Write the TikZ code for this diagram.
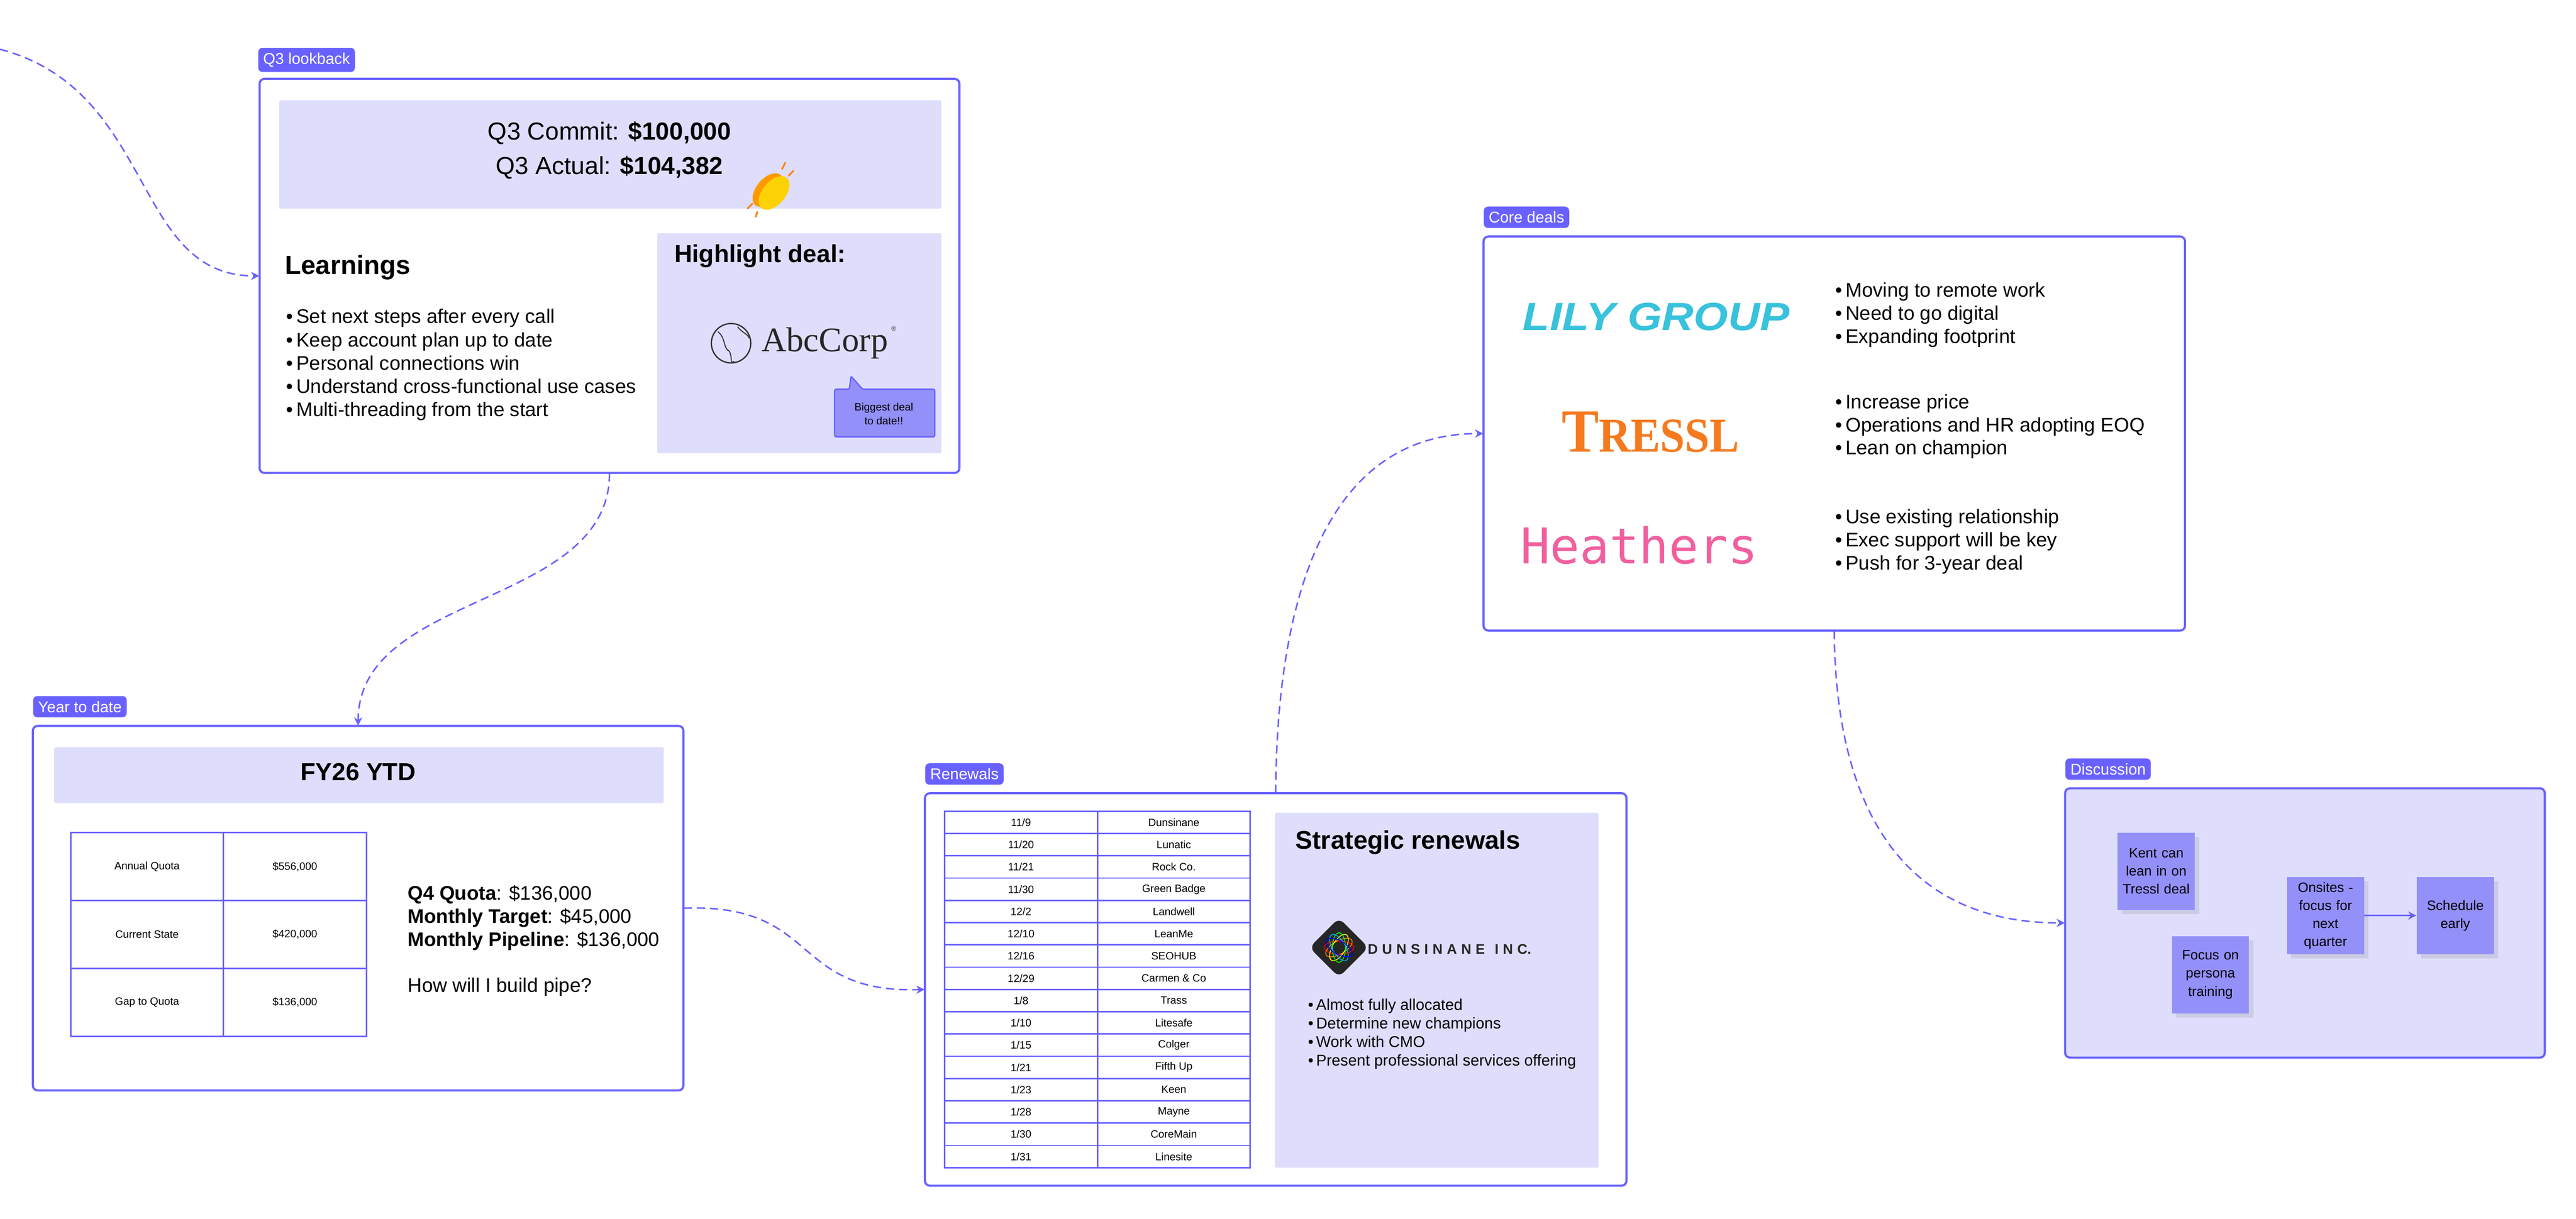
\documentclass[tikz,border=0pt]{standalone}
\usepackage{fontspec}
\setmainfont{Liberation Sans}
\newfontfamily\seriff{Liberation Serif}
\newfontfamily\monof{DejaVu Sans Mono}
\usetikzlibrary{arrows.meta,shapes.geometric,positioning,shadows}
\definecolor{pur}{HTML}{6961FF}
\definecolor{lite}{HTML}{DEDEFC}
\definecolor{stk}{HTML}{9490FA}
\definecolor{lily}{HTML}{38C2DC}
\definecolor{heath}{HTML}{F0609E}
\definecolor{tres}{HTML}{F57A1F}
\begin{document}
\begin{tikzpicture}[x=1pt,y=-1pt,
  frame/.style={draw=pur,line width=1.3pt,rounded corners=3pt,fill=white},
  tag/.style={fill=pur,rounded corners=2.5pt,text=white,font=\fontsize{9.5}{11}\selectfont,inner sep=3pt,anchor=south west},
  panel/.style={fill=lite,rounded corners=1pt},
  conn/.style={draw=pur,line width=0.9pt,dash pattern=on 5pt off 3pt,-{Stealth[length=5pt,width=5pt]}},
  sticky/.style={fill=stk,minimum width=47pt,minimum height=47pt,text width=47pt,align=center,font=\fontsize{8.3}{11}\selectfont,inner sep=0pt,drop shadow={opacity=0.2}},
  blist/.style={anchor=north west,align=left,inner sep=0pt},
  cell/.style={font=\fontsize{6.5}{8}\selectfont}]
\useasboundingbox (0,0) rectangle (1568,742);
\fill[white] (0,0) rectangle (1568,742);

% ===== Q3 lookback
\node[tag] (q3tag) at (157,44) {Q3 lookback};
\draw[frame] (158,48) rectangle (584,288);
\node[minimum width=426pt,minimum height=240pt,inner sep=0pt] (q3) at (371,168) {};
\fill[panel] (170,61) rectangle (573,127);
\node[font=\fontsize{15}{18}\selectfont] (commit) at (371,81) {Q3 Commit: \textbf{\$100,000}};
\node[font=\fontsize{15}{18}\selectfont] (actual) at (371,102) {Q3 Actual: \textbf{\$104,382}};
% clap
\begin{scope}[shift={(469,117)},rotate=-40]
 \fill[orange!80!yellow] (-2,0) ellipse (7 and 12);
 \fill[yellow!70!orange] (2,-1) ellipse (7 and 12);
\end{scope}
\draw[orange,line width=1pt,line cap=round] (476,103)--(478,99) (480,107)--(483,104) (458,124)--(455,127) (461,129)--(460,132);
\node[anchor=west,font=\bfseries\fontsize{16}{19}\selectfont] (learn) at (170,163) {Learnings};
\node[blist,font=\fontsize{12}{14.2}\selectfont] (lbul) at (174,188) {%
\textbullet\,Set next steps after every call\\
\textbullet\,Keep account plan up to date\\
\textbullet\,Personal connections win\\
\textbullet\,Understand cross-functional use cases\\
\textbullet\,Multi-threading from the start};
\fill[panel] (400,142) rectangle (573,276);
\node[anchor=west,font=\bfseries\fontsize{15}{18}\selectfont] (hl) at (407,156) {Highlight deal:};
\draw[black!80,line width=0.8pt] (445,209) circle (12);
\draw[black!80,line width=0.6pt] (437,202) .. controls (442,206) and (440,212) .. (444,214) .. controls (446,218) and (444,222) .. (447,220) (449,199) .. controls (452,203) and (455,203) .. (456,206);
\node[anchor=west,font=\seriff\fontsize{21}{24}\selectfont,text=black!85] (abc) at (460,209) {AbcCorp};
\node[font=\fontsize{4}{4}\selectfont,text=black!80] (reg) at (544,200) {\textregistered};
\draw[fill=stk,draw=pur,line width=0.8pt,rounded corners=1pt] (508,237) -- (517,237) -- (518,229) -- (525,237) -- (569,237) -- (569,266) -- (508,266) -- cycle;
\node[align=center,font=\fontsize{6.5}{8.5}\selectfont] (big) at (538,252) {Biggest deal\\to date!!};

% ===== Year to date
\node[tag] (ytdtag) at (20,437) {Year to date};
\draw[frame] (20,442) rectangle (416,664);
\node[minimum width=396pt,minimum height=222pt,inner sep=0pt] (ytd) at (218,553) {};
\fill[panel] (33,455) rectangle (404,489);
\node[font=\bfseries\fontsize{15}{18}\selectfont] (fy) at (218,470) {FY26 YTD};
\draw[pur,line width=0.9pt] (43,507) rectangle (223,631) (136,507)--(136,631) (43,548.3)--(223,548.3) (43,589.7)--(223,589.7);
\node[cell] (a1) at (89.5,527.7) {Annual Quota};
\node[cell] (a2) at (179.5,527.7) {\$556,000};
\node[cell] (b1) at (89.5,569) {Current State};
\node[cell] (b2) at (179.5,569) {\$420,000};
\node[cell] (c1) at (89.5,610.3) {Gap to Quota};
\node[cell] (c2) at (179.5,610.3) {\$136,000};
\node[blist,font=\fontsize{12}{14}\selectfont] (q4) at (248,539) {%
\textbf{Q4 Quota}: \$136,000\\
\textbf{Monthly Target}: \$45,000\\
\textbf{Monthly Pipeline}: \$136,000\\[14pt]
How will I build pipe?};

% ===== Renewals
\node[tag] (rentag) at (563,478) {Renewals};
\draw[frame] (563,483) rectangle (990,722);
\node[minimum width=427pt,minimum height=239pt,inner sep=0pt] (ren) at (776.5,602.5) {};
\draw[pur,line width=0.9pt] (575,494) rectangle (761,711) (668,494)--(668,711);
\foreach \i in {1,...,15} \draw[pur,line width=0.9pt] (575,{494+\i*13.5625})--(761,{494+\i*13.5625});
\foreach \d/\n [count=\i from 0] in {{11/9}/Dunsinane,{11/20}/Lunatic,{11/21}/Rock Co.,{11/30}/Green Badge,{12/2}/Landwell,{12/10}/LeanMe,{12/16}/SEOHUB,{12/29}/Carmen \& Co,{1/8}/Trass,{1/10}/Litesafe,{1/15}/Colger,{1/21}/Fifth Up,{1/23}/Keen,{1/28}/Mayne,{1/30}/CoreMain,{1/31}/Linesite}{
  \node[cell] (rd\i) at (621.5,{494+(\i+0.5)*13.5625}) {\d};
  \node[cell] (rn\i) at (714.5,{494+(\i+0.5)*13.5625}) {\n};
}
\fill[panel] (776,495) rectangle (973,711);
\node[anchor=west,font=\bfseries\fontsize{15.5}{18}\selectfont] (strat) at (785,513) {Strategic renewals};
\fill[black!85,rounded corners=4pt] (815,559) -- (833,577) -- (815,595) -- (797,577) -- cycle;
\foreach \a/\c in {0/red,30/orange,60/yellow,90/green,120/cyan,150/blue}
  \draw[\c,line width=0.5pt,rotate around={\a:(815,577)}] (815,577) ellipse (9 and 4);
\node[anchor=west,font=\bfseries\fontsize{8.5}{10}\selectfont,text=black!85] (dun) at (829,578) {D\hspace{2.6pt}U\hspace{2.6pt}N\hspace{2.6pt}S\hspace{2.6pt}I\hspace{2.6pt}N\hspace{2.6pt}A\hspace{2.6pt}N\hspace{2.6pt}E\hspace{6pt}I\hspace{2.6pt}N\hspace{2.6pt}C.};
\node[blist,font=\fontsize{9.5}{11.3}\selectfont] (sbul) at (796,608) {%
\textbullet\,Almost fully allocated\\
\textbullet\,Determine new champions\\
\textbullet\,Work with CMO\\
\textbullet\,Present professional services offering};

% ===== Core deals
\node[tag] (coretag) at (903,139) {Core deals};
\draw[frame] (903,144) rectangle (1330,384);
\node[minimum width=427pt,minimum height=240pt,inner sep=0pt] (core) at (1116.5,264) {};
\node[anchor=west,font=\bfseries\itshape\fontsize{24}{26}\selectfont,text=lily,xscale=1.12] (lily) at (923,193) {LILY GROUP};
\node[anchor=west,font=\seriff\bfseries\fontsize{34}{36}\selectfont,text=tres,yscale=1.1] (tressl) at (947,263) {T\fontsize{27}{30}\selectfont RESSL};
\node[anchor=west,font=\monof\fontsize{30}{32}\selectfont,text=heath] (heath) at (922,332) {Heathers};
\node[blist,font=\fontsize{12}{14}\selectfont] (lb1) at (1117,172) {\textbullet\,Moving to remote work\\\textbullet\,Need to go digital\\\textbullet\,Expanding footprint};
\node[blist,font=\fontsize{12}{14}\selectfont] (lb2) at (1117,240) {\textbullet\,Increase price\\\textbullet\,Operations and HR adopting EOQ\\\textbullet\,Lean on champion};
\node[blist,font=\fontsize{12}{14}\selectfont] (lb3) at (1117,310) {\textbullet\,Use existing relationship\\\textbullet\,Exec support will be key\\\textbullet\,Push for 3-year deal};

% ===== Discussion
\node[tag] (disctag) at (1257,475) {Discussion};
\draw[frame,fill=lite] (1257,480) rectangle (1549,644);
\node[minimum width=292pt,minimum height=164pt,inner sep=0pt] (disc) at (1403,562) {};
\node[sticky] (kent) at (1312.5,530.5) {Kent can\\lean in on\\Tressl deal\\[6pt]};
\node[sticky] (focus) at (1345.5,593.5) {Focus on\\persona\\training\\[6pt]};
\node[sticky] (ons) at (1415.5,557.5) {Onsites -\\focus for\\next\\quarter};
\node[sticky] (sched) at (1494.5,557.5) {Schedule\\early\\[10pt]};
\draw[pur,line width=1pt,-{Stealth[length=5pt,width=5pt]}] (ons) -- (sched);

% ===== connectors
\coordinate (start) at (0,30);
\draw[conn] (start) .. controls (95,55) and (80,168) .. (q3.west);
\draw[conn] (q3.south) .. controls (371,370) and (218,360) .. (ytd.north);
\draw[conn] (ytd.east) .. controls (500,550) and (480,605) .. (ren.west);
\draw[conn] (ren.north) .. controls (777,380) and (800,264) .. (core.west);
\draw[conn] (core.south) .. controls (1117,480) and (1150,562) .. (disc.west);
\end{tikzpicture}
\end{document}
